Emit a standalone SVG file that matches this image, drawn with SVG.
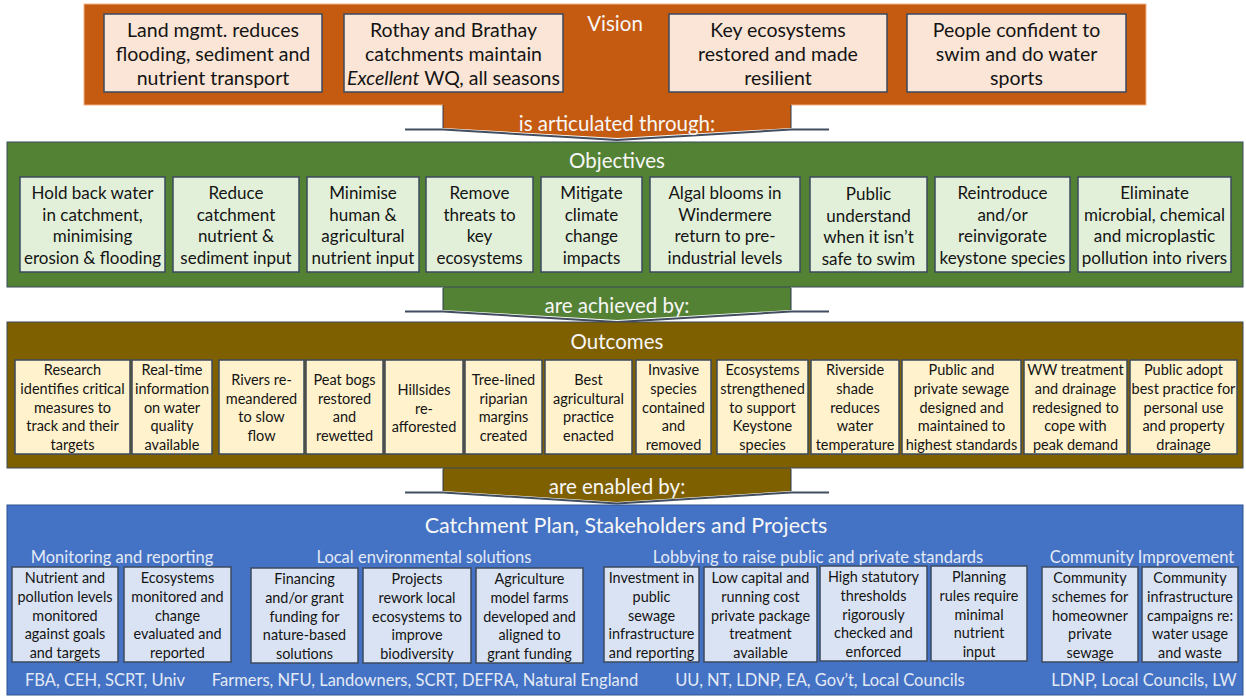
<svg xmlns="http://www.w3.org/2000/svg" width="1246" height="699" viewBox="0 0 1246 699">
<style>
.t{font-family:Lato,"Liberation Sans","DejaVu Sans",sans-serif;text-anchor:middle;fill:#141414}
.wt{font-family:Lato,"Liberation Sans","DejaVu Sans",sans-serif;text-anchor:middle;fill:#F7F7F7}
.lt{font-family:Lato,"Liberation Sans","DejaVu Sans",sans-serif;text-anchor:middle;fill:#E3EAF6}
.box{stroke:#3B4A5E;stroke-width:1.5}
.vb{fill:#FBE5D6}.ob{fill:#E2F0D9}.ub{fill:#FFF2CC}.eb{fill:#DAE3F3}
.v{font-size:19.5px}.o{font-size:17px}.u{font-size:14.5px}.e{font-size:14.4px}
.ttl{font-size:20.5px}.sec{font-size:16.5px}
.shadow{fill:none;stroke:#2E3B4E;stroke-width:2;opacity:0.9}
</style>

<g id="vision">
<rect x="84" y="4" width="1062" height="101" fill="#C55A11" stroke="#F4B183" stroke-width="1"/>
<text class="wt ttl" x="615" y="31">Vision</text>
</g>
<g id="v1"><rect class="box vb" x="104" y="14" width="218" height="78"/>
<text class="t v" x="213" y="37">Land mgmt.  reduces</text><text class="t v" x="213" y="61">flooding, sediment and</text><text class="t v" x="213" y="85">nutrient transport</text></g>
<g id="v2"><rect class="box vb" x="344" y="14" width="219" height="78"/>
<text class="t v" x="453.5" y="37">Rothay and Brathay</text><text class="t v" x="453.5" y="61">catchments maintain</text><text class="t v" x="453.5" y="85"><tspan font-style="italic">Excellent</tspan> WQ, all seasons</text></g>
<g id="v3"><rect class="box vb" x="669" y="14" width="218" height="78"/>
<text class="t v" x="778" y="37">Key ecosystems</text><text class="t v" x="778" y="61">restored and made</text><text class="t v" x="778" y="85">resilient</text></g>
<g id="v4"><rect class="box vb" x="907" y="14" width="219" height="78"/>
<text class="t v" x="1016.5" y="37">People confident to</text><text class="t v" x="1016.5" y="61">swim and do water</text><text class="t v" x="1016.5" y="85">sports</text></g>

<g id="connectors">
<path class="shadow" d="M405,129.5 L443,129.5 L617,140 L791,129.5 L829,129.5"/>
<path d="M443,104 L443,128 L617,138 L791,128 L791,104 Z" fill="#C55A11"/>
<path d="M443,105 L443,128 M791,105 L791,128" stroke="#2E3B4E" stroke-width="1"/>
<text class="wt ttl" x="617" y="131">is articulated through:</text>

<path class="shadow" d="M405,311.5 L443,311.5 L617,322 L791,311.5 L829,311.5"/>
<path d="M443,287 L443,310 L617,320 L791,310 L791,287 Z" fill="#548235"/>
<path d="M443,288 L443,310 M791,288 L791,310" stroke="#2E3B4E" stroke-width="1"/>
<text class="wt ttl" x="617" y="313">are achieved by:</text>

<path class="shadow" d="M405,492.5 L443,492.5 L617,503.5 L791,492.5 L829,492.5"/>
<path d="M443,468 L443,491 L617,502 L791,491 L791,468 Z" fill="#7F6000"/>
<path d="M443,469 L443,491 M791,469 L791,491" stroke="#2E3B4E" stroke-width="1"/>
<text class="wt ttl" x="617" y="494">are enabled by:</text>
</g>

<g id="objectives">
<rect x="7" y="142" width="1236" height="145" fill="#548235" stroke="#3B4A5E" stroke-width="1"/>
<text class="wt ttl" x="617" y="168">Objectives</text>
</g>
<g id="o1"><rect class="box ob" x="20" y="177" width="145" height="95"/>
<text class="t o" x="92.5" y="199">Hold back water</text><text class="t o" x="92.5" y="221">in catchment,</text><text class="t o" x="92.5" y="242">minimising</text><text class="t o" x="92.5" y="264">erosion &amp; flooding</text></g>
<g id="o2"><rect class="box ob" x="173" y="177" width="126" height="95"/>
<text class="t o" x="236" y="199">Reduce</text><text class="t o" x="236" y="221">catchment</text><text class="t o" x="236" y="242">nutrient &amp;</text><text class="t o" x="236" y="264">sediment input</text></g>
<g id="o3"><rect class="box ob" x="307" y="177" width="112" height="95"/>
<text class="t o" x="363" y="199">Minimise</text><text class="t o" x="363" y="221">human &amp;</text><text class="t o" x="363" y="242">agricultural</text><text class="t o" x="363" y="264">nutrient input</text></g>
<g id="o4"><rect class="box ob" x="426" y="177" width="107" height="95"/>
<text class="t o" x="479.5" y="199">Remove</text><text class="t o" x="479.5" y="221">threats to</text><text class="t o" x="479.5" y="242">key</text><text class="t o" x="479.5" y="264">ecosystems</text></g>
<g id="o5"><rect class="box ob" x="541" y="177" width="101" height="95"/>
<text class="t o" x="591.5" y="199">Mitigate</text><text class="t o" x="591.5" y="221">climate</text><text class="t o" x="591.5" y="242">change</text><text class="t o" x="591.5" y="264">impacts</text></g>
<g id="o6"><rect class="box ob" x="650" y="177" width="150" height="95"/>
<text class="t o" x="725" y="199">Algal blooms in</text><text class="t o" x="725" y="221">Windermere</text><text class="t o" x="725" y="242">return to pre-</text><text class="t o" x="725" y="264">industrial levels</text></g>
<g id="o7"><rect class="box ob" x="810" y="177" width="117" height="95"/>
<text class="t o" x="868.5" y="200">Public</text><text class="t o" x="868.5" y="222">understand</text><text class="t o" x="868.5" y="243">when it isn’t</text><text class="t o" x="868.5" y="265">safe to swim</text></g>
<g id="o8"><rect class="box ob" x="935" y="177" width="135" height="95"/>
<text class="t o" x="1002.5" y="199">Reintroduce</text><text class="t o" x="1002.5" y="221">and/or</text><text class="t o" x="1002.5" y="242">reinvigorate</text><text class="t o" x="1002.5" y="264">keystone species</text></g>
<g id="o9"><rect class="box ob" x="1078" y="177" width="153" height="95"/>
<text class="t o" x="1154.5" y="199">Eliminate</text><text class="t o" x="1154.5" y="221">microbial, chemical</text><text class="t o" x="1154.5" y="242">and microplastic</text><text class="t o" x="1154.5" y="264">pollution into rivers</text></g>

<g id="outcomes">
<rect x="7" y="322" width="1236" height="146" fill="#7F6000" stroke="#3B4A5E" stroke-width="1"/>
<text class="wt ttl" x="617" y="349">Outcomes</text>
</g>
<g id="u1"><rect class="box ub" x="15" y="360" width="115" height="94"/>
<text class="t u" x="72.5" y="375">Research</text><text class="t u" x="72.5" y="394">identifies critical</text><text class="t u" x="72.5" y="413">measures to</text><text class="t u" x="72.5" y="431">track and their</text><text class="t u" x="72.5" y="450">targets</text></g>
<g id="u2"><rect class="box ub" x="132" y="360" width="80" height="94"/>
<text class="t u" x="172" y="375">Real-time</text><text class="t u" x="172" y="394">information</text><text class="t u" x="172" y="413">on water</text><text class="t u" x="172" y="431">quality</text><text class="t u" x="172" y="450">available</text></g>
<g id="u3"><rect class="box ub" x="219" y="360" width="85" height="94"/>
<text class="t u" x="261.5" y="385">Rivers re-</text><text class="t u" x="261.5" y="404">meandered</text><text class="t u" x="261.5" y="422">to slow</text><text class="t u" x="261.5" y="441">flow</text></g>
<g id="u4"><rect class="box ub" x="306" y="360" width="77" height="94"/>
<text class="t u" x="344.5" y="385">Peat bogs</text><text class="t u" x="344.5" y="404">restored</text><text class="t u" x="344.5" y="422">and</text><text class="t u" x="344.5" y="441">rewetted</text></g>
<g id="u5"><rect class="box ub" x="385" y="360" width="78" height="94"/>
<text class="t u" x="424" y="395">Hillsides</text><text class="t u" x="424" y="414">re-</text><text class="t u" x="424" y="432">afforested</text></g>
<g id="u6"><rect class="box ub" x="465" y="360" width="77" height="94"/>
<text class="t u" x="503.5" y="385">Tree-lined</text><text class="t u" x="503.5" y="404">riparian</text><text class="t u" x="503.5" y="422">margins</text><text class="t u" x="503.5" y="441">created</text></g>
<g id="u7"><rect class="box ub" x="545" y="360" width="87" height="94"/>
<text class="t u" x="588.5" y="385">Best</text><text class="t u" x="588.5" y="404">agricultural</text><text class="t u" x="588.5" y="422">practice</text><text class="t u" x="588.5" y="441">enacted</text></g>
<g id="u8"><rect class="box ub" x="636" y="360" width="75" height="94"/>
<text class="t u" x="673.5" y="375">Invasive</text><text class="t u" x="673.5" y="394">species</text><text class="t u" x="673.5" y="413">contained</text><text class="t u" x="673.5" y="431">and</text><text class="t u" x="673.5" y="450">removed</text></g>
<g id="u9"><rect class="box ub" x="717" y="360" width="91" height="94"/>
<text class="t u" x="762.5" y="375">Ecosystems</text><text class="t u" x="762.5" y="394">strengthened</text><text class="t u" x="762.5" y="413">to support</text><text class="t u" x="762.5" y="431">Keystone</text><text class="t u" x="762.5" y="450">species</text></g>
<g id="u10"><rect class="box ub" x="811" y="360" width="88" height="94"/>
<text class="t u" x="855" y="375">Riverside</text><text class="t u" x="855" y="394">shade</text><text class="t u" x="855" y="413">reduces</text><text class="t u" x="855" y="431">water</text><text class="t u" x="855" y="450">temperature</text></g>
<g id="u11"><rect class="box ub" x="902" y="360" width="119" height="94"/>
<text class="t u" x="961.5" y="375">Public and</text><text class="t u" x="961.5" y="394">private sewage</text><text class="t u" x="961.5" y="413">designed and</text><text class="t u" x="961.5" y="431">maintained to</text><text class="t u" x="961.5" y="450">highest standards</text></g>
<g id="u12"><rect class="box ub" x="1024" y="360" width="103" height="94"/>
<text class="t u" x="1075.5" y="375">WW treatment</text><text class="t u" x="1075.5" y="394">and drainage</text><text class="t u" x="1075.5" y="413">redesigned to</text><text class="t u" x="1075.5" y="431">cope with</text><text class="t u" x="1075.5" y="450">peak demand</text></g>
<g id="u13"><rect class="box ub" x="1130" y="360" width="107" height="94"/>
<text class="t u" x="1183.5" y="375">Public adopt</text><text class="t u" x="1183.5" y="394">best practice for</text><text class="t u" x="1183.5" y="413">personal use</text><text class="t u" x="1183.5" y="431">and property</text><text class="t u" x="1183.5" y="450">drainage</text></g>

<g id="enablers">
<rect x="7" y="505" width="1236" height="190" fill="#4472C4" stroke="#2F528F" stroke-width="1"/>
<text class="wt" x="626" y="533" font-size="21.5">Catchment Plan, Stakeholders and Projects</text>
<text class="lt sec" x="122" y="563">Monitoring and reporting</text>
<text class="lt sec" x="424" y="563">Local environmental solutions</text>
<text class="lt sec" x="818" y="563">Lobbying to raise public and private standards</text>
<text class="lt sec" x="1142" y="563">Community Improvement</text>
<text class="lt sec" x="105" y="686">FBA, CEH, SCRT, Univ</text>
<text class="lt sec" x="425" y="686">Farmers, NFU, Landowners, SCRT, DEFRA, Natural England</text>
<text class="lt sec" x="820" y="686">UU, NT, LDNP, EA, Gov’t, Local Councils</text>
<text class="lt sec" x="1144" y="686">LDNP, Local Councils, LW</text>
</g>
<g id="e1"><rect class="box eb" x="12" y="567" width="106" height="95"/>
<text class="t e" x="65" y="583">Nutrient and</text><text class="t e" x="65" y="602">pollution levels</text><text class="t e" x="65" y="621">monitored</text><text class="t e" x="65" y="639">against goals</text><text class="t e" x="65" y="658">and targets</text></g>
<g id="e2"><rect class="box eb" x="124" y="567" width="107" height="95"/>
<text class="t e" x="177.5" y="583">Ecosystems</text><text class="t e" x="177.5" y="602">monitored and</text><text class="t e" x="177.5" y="621">change</text><text class="t e" x="177.5" y="639">evaluated and</text><text class="t e" x="177.5" y="658">reported</text></g>
<g id="e3"><rect class="box eb" x="251" y="568" width="107" height="95"/>
<text class="t e" x="304.5" y="584">Financing</text><text class="t e" x="304.5" y="603">and/or grant</text><text class="t e" x="304.5" y="622">funding for</text><text class="t e" x="304.5" y="640">nature-based</text><text class="t e" x="304.5" y="659">solutions</text></g>
<g id="e4"><rect class="box eb" x="363" y="568" width="108" height="95"/>
<text class="t e" x="417" y="584">Projects</text><text class="t e" x="417" y="603">rework local</text><text class="t e" x="417" y="622">ecosystems to</text><text class="t e" x="417" y="640">improve</text><text class="t e" x="417" y="659">biodiversity</text></g>
<g id="e5"><rect class="box eb" x="476" y="568" width="107" height="95"/>
<text class="t e" x="529.5" y="584">Agriculture</text><text class="t e" x="529.5" y="603">model farms</text><text class="t e" x="529.5" y="622">developed and</text><text class="t e" x="529.5" y="640">aligned to</text><text class="t e" x="529.5" y="659">grant funding</text></g>
<g id="e6"><rect class="box eb" x="604" y="567" width="95" height="95"/>
<text class="t e" x="651.5" y="583">Investment in</text><text class="t e" x="651.5" y="602">public</text><text class="t e" x="651.5" y="621">sewage</text><text class="t e" x="651.5" y="639">infrastructure</text><text class="t e" x="651.5" y="658">and reporting</text></g>
<g id="e7"><rect class="box eb" x="704" y="567" width="113" height="95"/>
<text class="t e" x="760.5" y="583">Low capital and</text><text class="t e" x="760.5" y="602">running cost</text><text class="t e" x="760.5" y="621">private package</text><text class="t e" x="760.5" y="639">treatment</text><text class="t e" x="760.5" y="658">available</text></g>
<g id="e8"><rect class="box eb" x="820" y="566" width="107" height="95"/>
<text class="t e" x="873.5" y="582">High statutory</text><text class="t e" x="873.5" y="601">thresholds</text><text class="t e" x="873.5" y="620">rigorously</text><text class="t e" x="873.5" y="638">checked and</text><text class="t e" x="873.5" y="657">enforced</text></g>
<g id="e9"><rect class="box eb" x="931" y="566" width="96" height="95"/>
<text class="t e" x="979" y="582">Planning</text><text class="t e" x="979" y="601">rules require</text><text class="t e" x="979" y="620">minimal</text><text class="t e" x="979" y="638">nutrient</text><text class="t e" x="979" y="657">input</text></g>
<g id="e10"><rect class="box eb" x="1042" y="567" width="96" height="95"/>
<text class="t e" x="1090" y="583">Community</text><text class="t e" x="1090" y="602">schemes for</text><text class="t e" x="1090" y="621">homeowner</text><text class="t e" x="1090" y="639">private</text><text class="t e" x="1090" y="658">sewage</text></g>
<g id="e11"><rect class="box eb" x="1142" y="567" width="96" height="95"/>
<text class="t e" x="1190" y="583">Community</text><text class="t e" x="1190" y="602">infrastructure</text><text class="t e" x="1190" y="621">campaigns re:</text><text class="t e" x="1190" y="639">water usage</text><text class="t e" x="1190" y="658">and waste</text></g>
</svg>
